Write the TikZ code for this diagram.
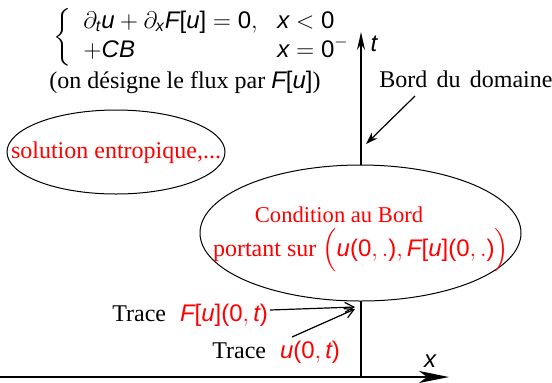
\documentclass[tikz,border=0pt]{standalone}
\usepackage{amsmath}
\usepackage{fontspec}
\setmainfont{Liberation Serif}
\newfontfamily\helv{Liberation Sans}
\usetikzlibrary{arrows.meta,shapes.geometric}
\newcommand{\vi}[1]{\text{\helv\itshape #1}}
\newcommand{\vr}[1]{\text{\helv #1}}
\begin{document}
\begin{tikzpicture}[x=0.5pt,y=-0.5pt,font=\fontsize{12}{14.4}\selectfont,
  axis/.style={line width=0.8pt},
  ell/.style={ellipse,draw,line width=0.5pt,fill=white,inner sep=0pt},
  thinarrow/.style={line width=0.6pt,-{Stealth[length=6pt,width=4pt]}},
  openarrow/.style={line width=0.6pt,-{Straight Barb[length=4.5pt,width=5pt]}}]
\useasboundingbox (0,0) rectangle (552,382);
% axes
\coordinate (xs) at (0,377);
\coordinate (xe) at (449,377);
\coordinate (o) at (361,377);
\coordinate (te) at (361,32);
\draw[axis,-{Stealth[length=15pt,width=6pt,inset=4pt]}] (xs) -- (xe);
\draw[axis,-{Stealth[length=9pt,width=4pt]}] (o) -- (te);
\node (tl) at (374,44) {$\vi{t}$};
\node (xl) at (430,361) {$\vi{x}$};
% equation
\node[anchor=west,inner sep=0pt] (eq) at (53,37)
 {$\bigg\{\begin{array}{@{\hspace{6pt}}l@{}l}
 \makebox[97pt][l]{$\partial_{\vi{t}}\vi{u}+\partial_{\vi{x}}\vi{F}\vr{[}\vi{u}\vr{]}=\vr{0},$} & \vi{x}<\vr{0}\\
 \makebox[97pt][l]{$+\vi{CB}$} & \vi{x}=\vr{0}^-
 \end{array}$};
\node (flux) at (185,82) {(on désigne le flux par $\vi{F}\vr{[}\vi{u}\vr{]}$)};
% left ellipse
\node[ell,minimum width=109pt,minimum height=42pt] (se) at (116,152) {};
\node[red] (set) at (116,153) {solution entropique,...};
% right ellipse
\node[ell,minimum width=160.5pt,minimum height=68pt] (cb) at (360.5,233) {};
\node[red,font=\fontsize{11.3}{13.6}\selectfont] (cb1) at (339,215) {Condition au Bord};
\node[red] (cb2) at (361,250) {portant sur $\Big(\vi{u}\vr{(0},.\vr{)},\vi{F}\vr{[}\vi{u}\vr{](0},.\vr{)}\Big)$};
% bord du domaine
\node (bd) at (466,79) {Bord\hspace{4.6pt}du\hspace{4.6pt}domaine};
\coordinate (bds) at (415,96);
\coordinate (bdt) at (366,144);
\draw[thinarrow] (bds) -- (bdt);
% traces
\node[anchor=east] (tr1) at (275,315) {Trace\hspace{7pt}\textcolor{red}{$\vi{F}\vr{[}\vi{u}\vr{](0},\vi{t}\vr{)}$}};
\node[anchor=east] (tr2) at (347,352) {Trace\hspace{7pt}\textcolor{red}{$\vi{u}\vr{(0},\vi{t}\vr{)}$}};
\coordinate (a1s) at (270,310);
\coordinate (a1t) at (355,307);
\coordinate (a2s) at (292,337);
\coordinate (a2t) at (355,309);
\draw[openarrow] (a1s) -- (a1t);
\draw[openarrow] (a2s) -- (a2t);
\end{tikzpicture}
\end{document}
